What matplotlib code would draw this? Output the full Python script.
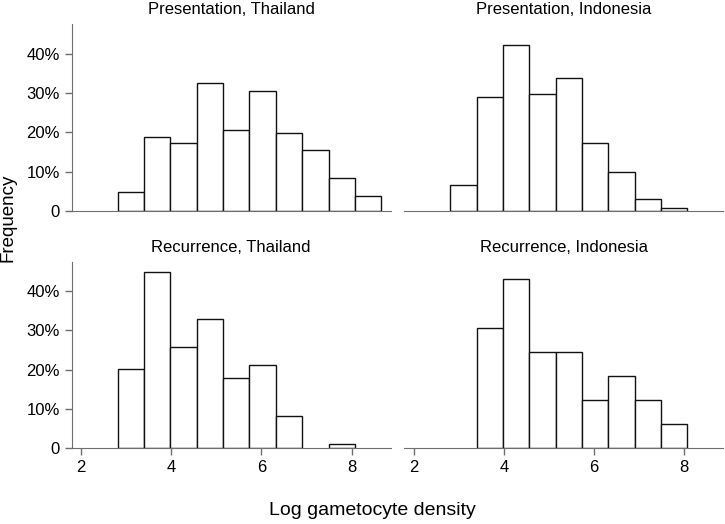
import matplotlib
matplotlib.use("Agg")
import matplotlib.pyplot as plt
from matplotlib.ticker import FuncFormatter

plt.rcParams['font.family'] = ['Liberation Sans', 'DejaVu Sans']

bin_start = 2.81
bin_width = 0.585

titles = ["Presentation, Thailand", "Presentation, Indonesia",
          "Recurrence, Thailand", "Recurrence, Indonesia"]

# frequencies (%) per bin, bins starting at bin_start
pres_thai = [4.9, 18.7, 17.3, 32.4, 20.7, 30.6, 19.9, 15.4, 8.3, 3.8]
pres_indo = [6.6, 28.9, 42.1, 29.6, 33.8, 17.3, 9.8, 3.1, 0.85, 0.0]
rec_thai = [20.1, 44.8, 25.9, 33.0, 17.8, 21.3, 8.2, 0.0, 1.1, 0.0]
rec_indo = [0.0, 30.7, 43.0, 24.6, 24.6, 12.2, 18.5, 12.2, 6.2, 0.0]

series = [pres_thai, pres_indo, rec_thai, rec_indo]
x_ticks = [2, 4, 6, 8]
y_ticks = [0, 10, 20, 30, 40]

fig = plt.figure(figsize=(7.25, 5.24), dpi=100)
pos = [
    [0.0989, 0.5973, 0.4400, 0.3569],
    [0.5577, 0.5973, 0.4395, 0.3569],
    [0.0989, 0.1445, 0.4400, 0.3561],
    [0.5577, 0.1445, 0.4395, 0.3561],
]
spine_col = '#6e6e6e'
for i, (p, vals, t) in enumerate(zip(pos, series, titles)):
    ax = fig.add_axes(p)
    lefts = [bin_start + k * bin_width for k in range(len(vals))]
    for x0, v in zip(lefts, vals):
        if v > 0:
            ax.bar(x0, v, width=bin_width, align='edge', facecolor='white',
                   edgecolor='#111111', linewidth=1.0, zorder=2)
    ax.set_xlim(1.79, 8.87)
    ax.set_ylim(0, 47.5)
    for s in ['top', 'right']:
        ax.spines[s].set_visible(False)
    ax.spines['bottom'].set_color(spine_col)
    ax.spines['left'].set_color(spine_col)
    ax.spines['bottom'].set_zorder(3)
    ax.set_title(t, fontsize=12, pad=7)
    ax.tick_params(colors=spine_col, labelcolor='black', labelsize=12,
                   length=5, width=1)
    if i % 2 == 0:
        ax.set_yticks(y_ticks)
        ax.yaxis.set_major_formatter(FuncFormatter(
            lambda v, _: '0' if v == 0 else f'{int(v)}%'))
    else:
        ax.spines['left'].set_visible(False)
        ax.set_yticks([])
    if i < 2:
        ax.set_xticks([])
    else:
        ax.set_xticks(x_ticks)

fig.text(0.0, 0.585, 'Frequency', rotation=90, fontsize=13.5,
         va='center', ha='left')
fig.text(0.514, 0.025, 'Log gametocyte density', fontsize=14,
         ha='center', va='center')

fig.savefig('out.png', dpi=100)
